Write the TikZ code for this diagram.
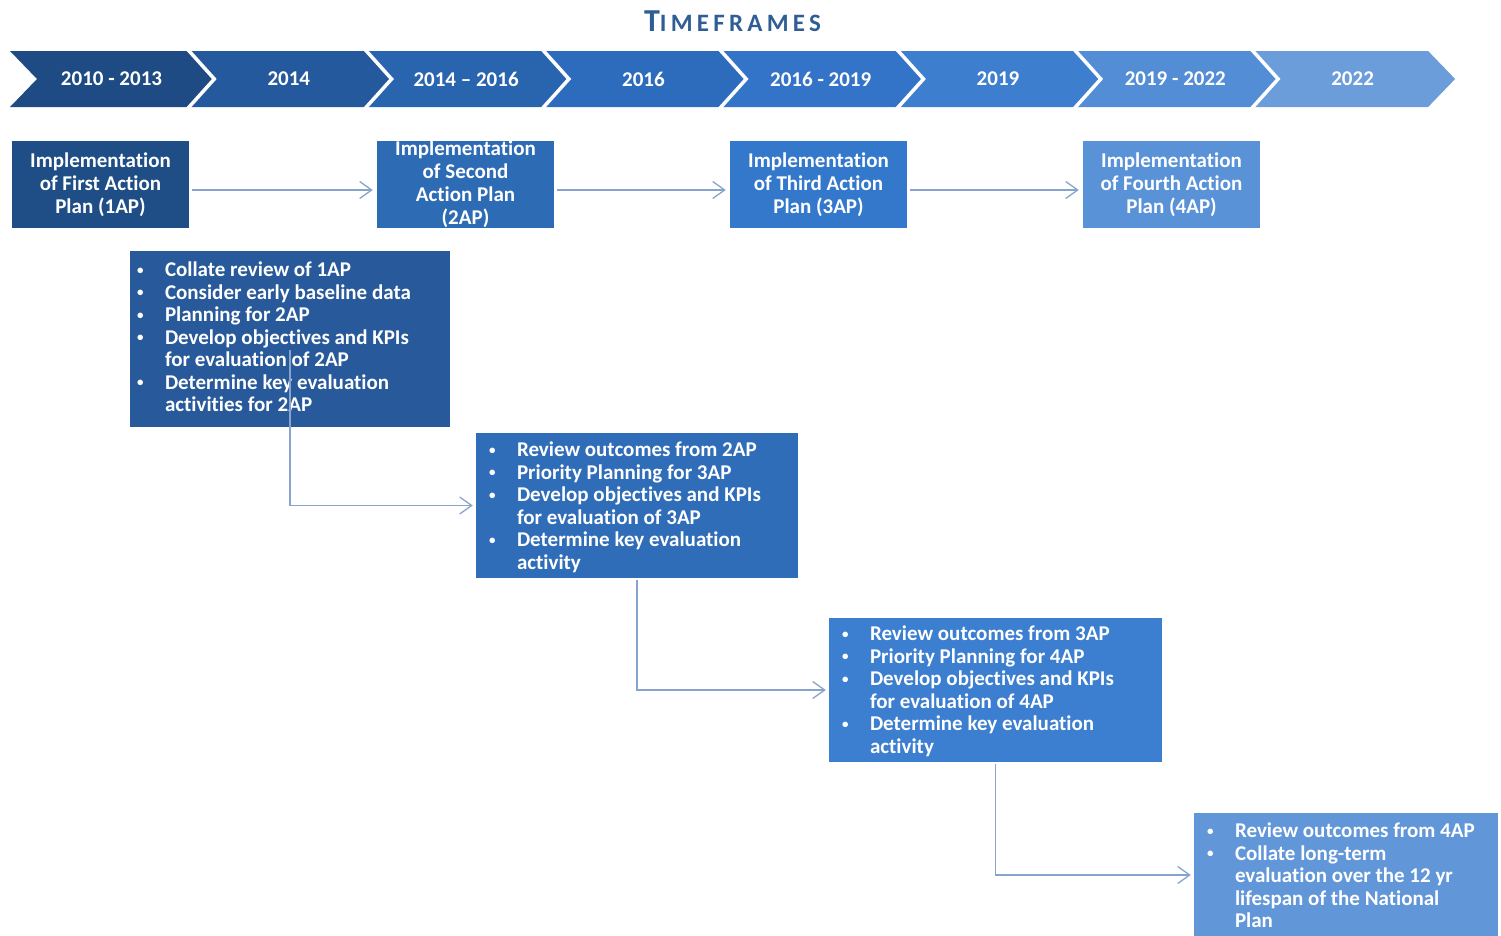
\documentclass[tikz,border=0pt]{standalone}
\usepackage{fontspec}
\setmainfont{Carlito}[Ligatures={NoCommon}]
\usetikzlibrary{arrows.meta}
\definecolor{ch1}{HTML}{1F4B84}
\definecolor{ch2}{HTML}{25599D}
\definecolor{ch3}{HTML}{2964AE}
\definecolor{ch4}{HTML}{2D6CBC}
\definecolor{ch5}{HTML}{3374C8}
\definecolor{ch6}{HTML}{3E7ECF}
\definecolor{ch7}{HTML}{528DD6}
\definecolor{ch8}{HTML}{6A9DDA}
\definecolor{bx1}{HTML}{1F4E86}
\definecolor{bx2}{HTML}{2E6BB5}
\definecolor{bx3}{HTML}{3478CC}
\definecolor{bx4}{HTML}{5A92D8}
\definecolor{lb1}{HTML}{285A9B}
\definecolor{lb2}{HTML}{306DB9}
\definecolor{lb3}{HTML}{3C7ECF}
\definecolor{lb4}{HTML}{6196D8}
\definecolor{linec}{HTML}{88A4CC}
\definecolor{titlec}{HTML}{2F5E96}
\newcommand{\bdot}{\raisebox{2.5pt}{\fontsize{13}{13}\selectfont •}}
\begin{document}
\begin{tikzpicture}[x=1pt,y=-1pt,
  yeartext/.style={text=white,inner sep=0pt,font=\fontsize{21}{23}\selectfont\bfseries},
  implbox/.style={minimum width=177pt,minimum height=87pt,inner sep=0pt,text=white,align=center,font=\fontsize{21}{23}\selectfont\bfseries},
  listbox/.style={inner sep=0pt},
  listtext/.style={anchor=west,inner sep=0pt,text=white,font=\fontsize{21}{22.5}\selectfont\bfseries},
  conn/.style={draw=linec,line width=1.3pt,-{Straight Barb[length=12pt,width=17pt]}}
]
\useasboundingbox (0,0) rectangle (1501,935);

% title
\node[anchor=base,inner sep=0pt,text=titlec,font=\bfseries] (title) at (732.5,31)
  {\addfontfeature{LetterSpace=17}\fontsize{32}{32}\selectfont T\fontsize{25}{25}\selectfont IMEFRAMES};

% chevrons
\foreach \i/\c in {0/ch1,1/ch2,2/ch3,3/ch4,4/ch5,5/ch6,6/ch7,7/ch8}{
  \pgfmathsetmacro{\xx}{10+177.3*\i}
  \fill[\c] (\xx,51) -- (\xx+177,51) -- (\xx+204,79) -- (\xx+177,107) -- (\xx,107) -- (\xx+27,79) -- cycle;
}
\foreach \i in {1,...,7}{
  \pgfmathsetmacro{\xx}{10+177.3*\i}
  \draw[white,line width=3.5pt] (\xx,49) -- (\xx+27,79) -- (\xx,109);
}
\foreach \i/\t in {0/{2010 - 2013},1/{2014},2/{2014 – 2016},3/{2016},4/{2016 - 2019},5/{2019},6/{2019 - 2022},7/{2022}}{
  \pgfmathsetmacro{\xx}{10+177.3*\i+101.5}
  \node[yeartext] (y\i) at (\xx,79) {\t};
}

% implementation boxes
\node[implbox,fill=bx1] (i1) at (100.5,184.5) {Implementation\\of First Action\\Plan (1AP)};
\node[implbox,fill=bx2] (i2) at (465.5,184.5) {Implementation\\of Second\\Action Plan\\(2AP)};
\node[implbox,fill=bx3] (i3) at (818.5,184.5) {Implementation\\of Third Action\\Plan (3AP)};
\node[implbox,fill=bx4] (i4) at (1171.5,184.5) {Implementation\\of Fourth Action\\Plan (4AP)};

\draw[conn,shorten <=3pt,shorten >=4pt] ([yshift=-5.5pt]i1.east) -- ([yshift=-5.5pt]i1.east -| i2.west);
\draw[conn,shorten <=3pt,shorten >=4pt] ([yshift=-5.5pt]i2.east) -- ([yshift=-5.5pt]i2.east -| i3.west);
\draw[conn,shorten <=3pt,shorten >=4pt] ([yshift=-5.5pt]i3.east) -- ([yshift=-5.5pt]i3.east -| i4.west);

% list boxes
\node[listbox,fill=lb1,minimum width=320pt,minimum height=176pt] (b1) at (290,339) {};
\node[listbox,fill=lb2,minimum width=322pt,minimum height=145pt] (b2) at (637,505.5) {};
\node[listbox,fill=lb3,minimum width=333pt,minimum height=144pt] (b3) at (995.5,690) {};
\node[listbox,fill=lb4,minimum width=304pt,minimum height=124pt] (b4) at (1346,875) {};

\node[listtext] (t1) at ([xshift=7pt,yshift=-0.5pt]b1.west) {\begin{tabular}{@{}p{28pt}@{}l@{}}
\bdot&Collate review of 1AP\\
\bdot&Consider early baseline data\\
\bdot&Planning for 2AP\\
\bdot&Develop objectives and KPIs\\
&for evaluation of 2AP\\
\bdot&Determine key evaluation\\
&activities for 2AP
\end{tabular}};
\node[listtext] (t2) at ([xshift=13pt,yshift=-3pt]b2.west) {\begin{tabular}{@{}p{28pt}@{}l@{}}
\bdot&Review outcomes from 2AP\\
\bdot&Priority Planning for 3AP\\
\bdot&Develop objectives and KPIs\\
&for evaluation of 3AP\\
\bdot&Determine key evaluation\\
&activity
\end{tabular}};
\node[listtext] (t3) at ([xshift=13pt,yshift=-2.5pt]b3.west) {\begin{tabular}{@{}p{28pt}@{}l@{}}
\bdot&Review outcomes from 3AP\\
\bdot&Priority Planning for 4AP\\
\bdot&Develop objectives and KPIs\\
&for evaluation of 4AP\\
\bdot&Determine key evaluation\\
&activity
\end{tabular}};
\node[listtext] (t4) at ([xshift=13pt,yshift=-3pt]b4.west) {\begin{tabular}{@{}p{28pt}@{}l@{}}
\bdot&Review outcomes from 4AP\\
\bdot&Collate long-term\\
&evaluation over the 12 yr\\
&lifespan of the National\\
&Plan
\end{tabular}};

% connectors
\draw[conn,shorten >=3pt] ([yshift=-11pt]b1.center) |- (b2.west);
\draw[conn,shorten <=2pt,shorten >=3pt] (b2.south) |- (b3.west);
\draw[conn,shorten <=2pt,shorten >=3pt] (b3.south) |- (b4.west);
\end{tikzpicture}
\end{document}
